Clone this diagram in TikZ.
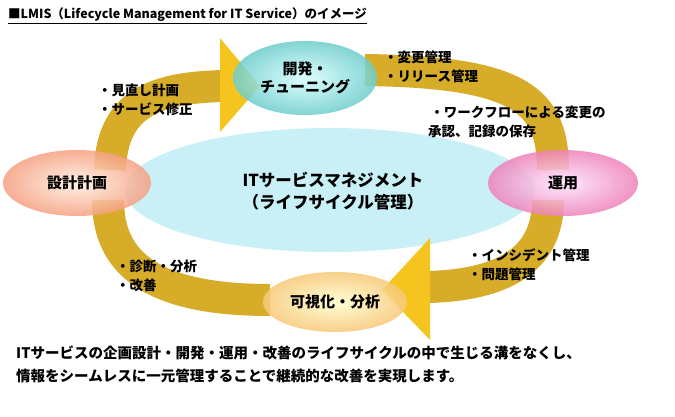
\documentclass[tikz,border=0pt]{standalone}
\usepackage{fontspec}
\setmainfont{Noto Sans CJK JP}
\usetikzlibrary{shapes.geometric}
\definecolor{band}{RGB}{214,172,40}
\definecolor{head}{RGB}{246,196,30}
\definecolor{cen}{RGB}{200,240,246}
\begin{document}
\begin{tikzpicture}[x=1pt,y=-1pt,
 oval/.style={ellipse,inner sep=0pt,font=\fontsize{15}{18}\selectfont\bfseries,align=center,fill opacity=0.85,text opacity=1},
 lab/.style={font=\fontsize{13.5}{19}\selectfont\bfseries,align=left,anchor=north west,inner sep=0pt},
 bandst/.style={draw=band,line width=32pt}]
\useasboundingbox (0,0) rectangle (675,416);
\fill[white] (0,0) rectangle (675,416);
\node[ellipse,fill=cen,minimum width=410pt,minimum height=124pt,inner sep=0pt] (c) at (330,190) {};
\node[font=\fontsize{16.5}{22}\selectfont\bfseries,align=center] (ct) at (333,191) {ITサービスマネジメント\\（ライフサイクル管理）};
% bands
\draw[bandst] (110,170) .. controls (112,100) and (160,88) .. (222,86);
\fill[head] (220,38) -- (260,86) -- (220,132) -- cycle;
\draw[bandst] (365,70) .. controls (520,72) and (553,100) .. (553,170);
\draw[bandst] (548,200) .. controls (548,262) and (500,285) .. (428,287);
\fill[head] (430,238) -- (382,290) -- (430,340) -- cycle;
\draw[bandst] (270,300) .. controls (150,300) and (108,262) .. (108,200);
% ovals
\node[oval,shade,inner color=white!60!orange!30,outer color={rgb,255:red,246;green,160;blue,130},minimum width=148pt,minimum height=66pt] (s) at (77,183) {設計計画};
\node[oval,shade,inner color=cyan!15,outer color={rgb,255:red,110;green,205;blue,205},minimum width=144pt,minimum height=74pt] (d) at (305,78) {開発・\\チューニング};
\node[oval,shade,inner color=magenta!10,outer color={rgb,255:red,238;green,130;blue,185},minimum width=150pt,minimum height=66pt] (o) at (563,183) {運用};
\node[oval,shade,inner color=yellow!20,outer color={rgb,255:red,248;green,200;blue,120},minimum width=144pt,minimum height=60pt] (v) at (335,302) {可視化・分析};
% labels
\node[lab] (l1) at (98,84) {・見直し計画\\・サービス修正};
\node[lab] (l2) at (384,51) {・変更管理\\・リリース管理};
\node[lab] (l3) at (428,106) {\,・ワークフローによる変更の\\承認、記録の保存};
\node[lab] (l4) at (468,248) {・インシデント管理\\・問題管理};
\node[lab] (l5) at (116,260) {・診断・分析\\・改善};
\node[anchor=west,inner sep=0pt,font=\fontsize{12.5}{14}\selectfont\bfseries] (t) at (8,16) {\underline{■LMIS（Lifecycle Management for IT Service）のイメージ}};
\node[anchor=north west,inner sep=0pt,align=left,font=\fontsize{14.5}{23}\selectfont\bfseries] (b) at (16,346) {ITサービスの企画設計・開発・運用・改善のライフサイクルの中で生じる溝をなくし、\\情報をシームレスに一元管理することで継続的な改善を実現します。};
\end{tikzpicture}
\end{document}
